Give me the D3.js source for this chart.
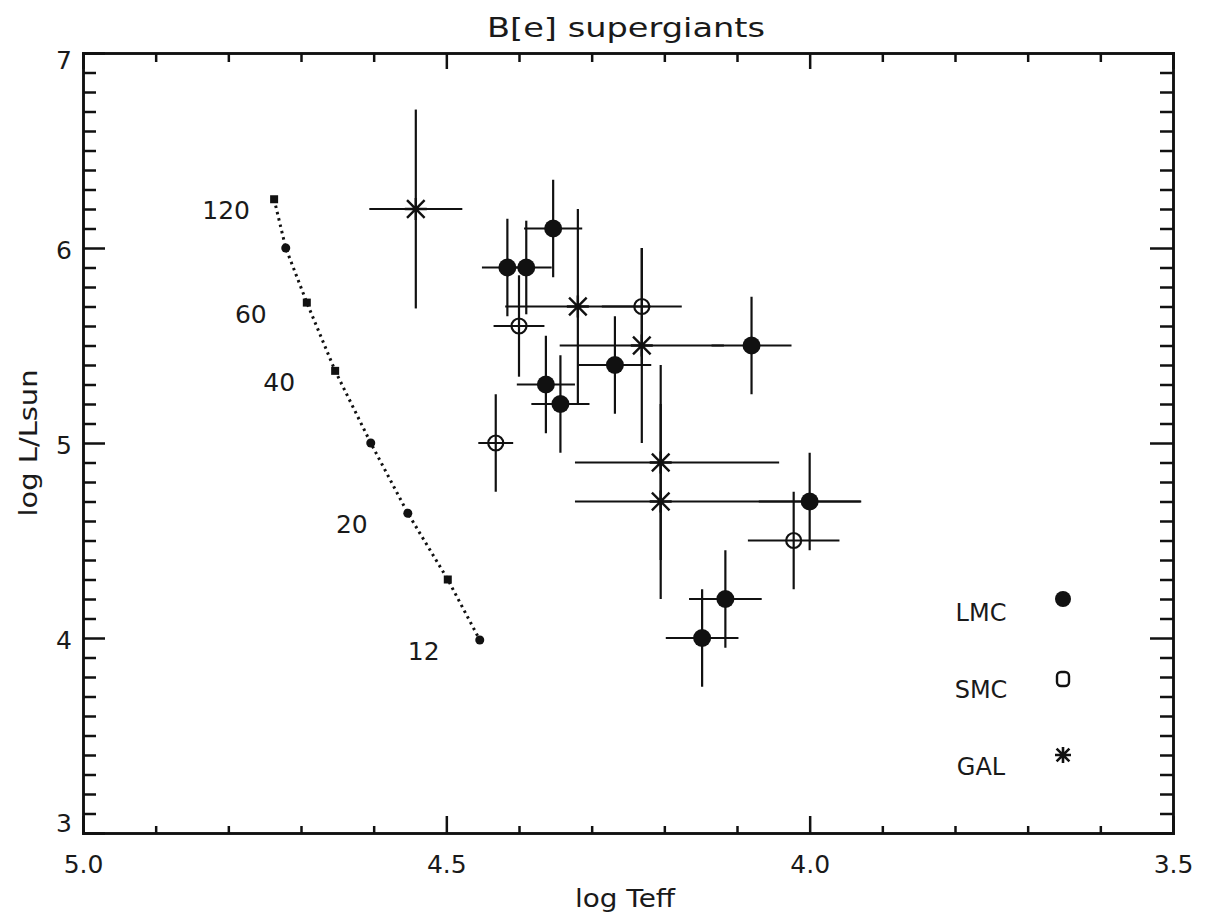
<!DOCTYPE html>
<html>
<head>
<meta charset="utf-8">
<script src="https://cdn.jsdelivr.net/npm/d3@7"></script>
<style>
    body { margin: 0; background: #fff; }
    text { font-family: "DejaVu Sans", sans-serif; fill: #1a1a1a; }
</style>
</head>
<body>
<svg width="1209" height="918"></svg>
<script>
// evolutionary track: log Teff, log L and the initial mass labels
var trackTeff = [4.737, 4.721, 4.692, 4.653, 4.604, 4.553, 4.498, 4.454];
var trackLum = [6.25, 6.0, 5.72, 5.37, 5.0, 4.64, 4.30, 3.99];
var trackShape = ["square", "circle", "square", "square", "circle", "circle", "square", "circle"];
var trackMass = ["120", "", "60", "40", "", "20", "", "12"];

// stars: [log Teff, log L, err hot side, err cool side, err down, err up]
var lmc = [
    [4.353, 6.1, 0.04, 0.04, 0.25, 0.25],
    [4.416, 5.9, 0.035, 0.035, 0.25, 0.25],
    [4.39, 5.9, 0.035, 0.035, 0.24, 0.24],
    [4.268, 5.4, 0.05, 0.05, 0.25, 0.25],
    [4.363, 5.3, 0.04, 0.04, 0.25, 0.25],
    [4.343, 5.2, 0.04, 0.04, 0.25, 0.25],
    [4.08, 5.5, 0.055, 0.055, 0.25, 0.25],
    [4.0, 4.7, 0.07, 0.07, 0.25, 0.25],
    [4.116, 4.2, 0.05, 0.05, 0.25, 0.25],
    [4.148, 4.0, 0.05, 0.05, 0.25, 0.25]
];
var smc = [
    [4.40, 5.6, 0.035, 0.035, 0.26, 0.26],
    [4.231, 5.7, 0.055, 0.055, 0.3, 0.3],
    [4.432, 5.0, 0.024, 0.024, 0.25, 0.25],
    [4.022, 4.5, 0.063, 0.063, 0.25, 0.25]
];
var gal = [
    [4.542, 6.2, 0.064, 0.064, 0.51, 0.51],
    [4.319, 5.7, 0.1, 0.1, 0.5, 0.5],
    [4.231, 5.5, 0.113, 0.113, 0.5, 0.5],
    [4.205, 4.9, 0.118, 0.163, 0.5, 0.5],
    [4.205, 4.7, 0.118, 0.276, 0.5, 0.5]
];

var xMajor = [5.0, 4.5, 4.0, 3.5];
var yMajor = [3, 4, 5, 6, 7];
var legendNames = ["LMC", "SMC", "GAL"];

var svg = d3.select("svg");
var x = d3.scaleLinear().domain([5.0, 3.5]).range([83, 1173]);
var y = d3.scaleLinear().domain([3, 7]).range([833, 53]);
var xMinor = d3.range(35, 51).map(d => d / 10).filter(d => xMajor.indexOf(d) < 0);
var yMinor = d3.range(30, 71).map(d => d / 10).filter(d => yMajor.indexOf(d) < 0);

// axes, ticks pointing inward
function styleAxis(g) {
    g.selectAll("path, line").attr("stroke", "#111").attr("stroke-width", 2.5);
    g.selectAll("text").style("font-size", "25px").attr("fill", "#1a1a1a");
    g.select(".domain").attr("stroke-linecap", "square");
}
function addAxis(axis, tx, ty) {
    return svg.append("g").attr("transform", `translate(${tx},${ty})`).call(axis).call(styleAxis);
}

addAxis(d3.axisLeft(y).tickValues(yMinor).tickSize(-13).tickSizeOuter(0).tickFormat(""), 83, 0);
var yAx = addAxis(d3.axisLeft(y).tickValues(yMajor).tickSize(-22).tickSizeOuter(0).tickPadding(11).tickFormat(d3.format("d")), 83, 0);
addAxis(d3.axisRight(y).tickValues(yMinor).tickSize(-13).tickSizeOuter(0).tickFormat(""), 1173, 0);
addAxis(d3.axisRight(y).tickValues(yMajor).tickSize(-23).tickSizeOuter(0).tickFormat(""), 1173, 0);
addAxis(d3.axisBottom(x).tickValues(xMinor).tickSize(-7).tickSizeOuter(0).tickFormat(""), 0, 833);
addAxis(d3.axisBottom(x).tickValues(xMajor).tickSize(-17).tickSizeOuter(0).tickPadding(22).tickFormat(d3.format(".1f")), 0, 833);
addAxis(d3.axisTop(x).tickValues(xMinor).tickSize(-9).tickSizeOuter(0).tickFormat(""), 0, 53);
addAxis(d3.axisTop(x).tickValues(xMajor).tickSize(-16).tickSizeOuter(0).tickFormat(""), 0, 53);

// end labels sit inside the frame
yAx.selectAll(".tick text").attr("dy", d => d == 7 ? "0.6em" : d == 3 ? "-0.08em" : "0.42em");

// titles
svg.append("text").attr("x", 626).attr("y", 37).attr("text-anchor", "middle")
    .style("font-size", "27px").attr("textLength", 278).attr("lengthAdjust", "spacingAndGlyphs")
    .text("B[e] supergiants");
svg.append("text").attr("x", 625).attr("y", 907).attr("text-anchor", "middle")
    .style("font-size", "25px").attr("textLength", 100).attr("lengthAdjust", "spacingAndGlyphs")
    .text("log Teff");
svg.append("text").attr("transform", "translate(37,443) rotate(-90)").attr("text-anchor", "middle")
    .style("font-size", "25px").attr("textLength", 147).attr("lengthAdjust", "spacingAndGlyphs")
    .text("log L/Lsun");

// track
var track = trackTeff.map((t, i) => ({ x: t, y: trackLum[i], shape: trackShape[i], mass: trackMass[i] }));
svg.append("path")
    .datum(track)
    .attr("fill", "none")
    .attr("stroke", "#111")
    .attr("stroke-width", 3)
    .attr("stroke-dasharray", "2.5 4")
    .attr("d", d3.line().x(d => x(d.x)).y(d => y(d.y)));
svg.selectAll("rect.tk").data(track.filter(d => d.shape == "square")).enter()
    .append("rect").attr("class", "tk")
    .attr("x", d => x(d.x) - 4).attr("y", d => y(d.y) - 4)
    .attr("width", 8).attr("height", 8).attr("fill", "#111");
svg.selectAll("circle.tk").data(track.filter(d => d.shape == "circle")).enter()
    .append("circle").attr("class", "tk")
    .attr("cx", d => x(d.x)).attr("cy", d => y(d.y)).attr("r", 4.5).attr("fill", "#111");
svg.selectAll("text.mass").data(track.filter(d => d.mass)).enter()
    .append("text").attr("class", "mass")
    .attr("x", d => x(d.x) - (d.mass.length > 2 ? 48 : 56))
    .attr("y", d => y(d.y) + 20)
    .attr("text-anchor", "middle")
    .style("font-size", "25px")
    .text(d => d.mass);

// error bars
function errorBars(data) {
    var g = svg.append("g").attr("stroke", "#111").attr("stroke-width", 2.2);
    g.selectAll("line.h").data(data).enter().append("line").attr("class", "h")
        .attr("x1", d => x(d[0] + d[2])).attr("x2", d => x(d[0] - d[3]))
        .attr("y1", d => y(d[1])).attr("y2", d => y(d[1]));
    g.selectAll("line.v").data(data).enter().append("line").attr("class", "v")
        .attr("x1", d => x(d[0])).attr("x2", d => x(d[0]))
        .attr("y1", d => y(d[1] - d[4])).attr("y2", d => y(d[1] + d[5]));
}
errorBars(gal);
errorBars(smc);
errorBars(lmc);

function asterisk(s) {
    var a = s * 0.8;
    return `M0,${-s}L0,${s}M${-s},0L${s},0M${-a},${-a}L${a},${a}M${-a},${a}L${a},${-a}`;
}

svg.selectAll("circle.lmc").data(lmc).enter().append("circle").attr("class", "lmc")
    .attr("cx", d => x(d[0])).attr("cy", d => y(d[1])).attr("r", 9).attr("fill", "#111");
svg.selectAll("circle.smc").data(smc).enter().append("circle").attr("class", "smc")
    .attr("cx", d => x(d[0])).attr("cy", d => y(d[1])).attr("r", 7.5)
    .attr("fill", "none").attr("stroke", "#111").attr("stroke-width", 2.2);
svg.selectAll("path.gal").data(gal).enter().append("path").attr("class", "gal")
    .attr("transform", d => `translate(${x(d[0])},${y(d[1])})`)
    .attr("d", asterisk(11)).attr("stroke", "#111").attr("stroke-width", 2.4).attr("fill", "none");

// legend
var leg = svg.append("g");
leg.selectAll("text").data(legendNames).enter().append("text")
    .attr("x", 981).attr("y", (d, i) => [621, 698, 775][i])
    .attr("text-anchor", "middle").style("font-size", "24px")
    .text(d => d);
leg.append("circle").attr("cx", 1063).attr("cy", 599).attr("r", 8).attr("fill", "#111");
leg.append("rect").attr("x", 1057).attr("y", 672).attr("width", 12).attr("height", 14).attr("rx", 4)
    .attr("fill", "none").attr("stroke", "#111").attr("stroke-width", 2.4);
leg.append("path").attr("transform", "translate(1063,755)").attr("d", asterisk(8))
    .attr("stroke", "#111").attr("stroke-width", 2.6).attr("fill", "none");
</script>
</body>
</html>
